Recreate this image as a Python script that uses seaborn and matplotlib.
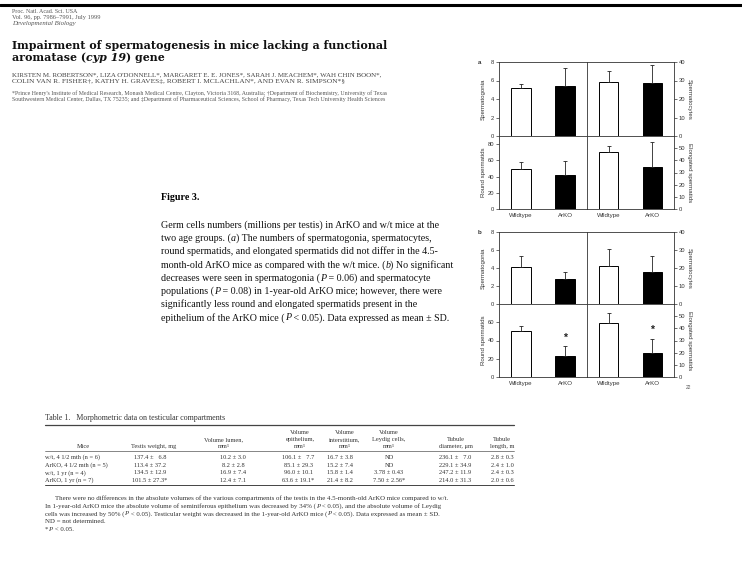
import pandas as pd
import matplotlib
matplotlib.use("Agg")
import matplotlib.pyplot as plt
import seaborn as sns

# --- data (millions per testis, mean and SD) ---
groups = ["Wildtype", "ArKO"]

a_spermatogonia = [5.15, 5.45]
a_spermatogonia_sd = [0.5, 1.9]
a_spermatocytes = [29.1, 28.7]
a_spermatocytes_sd = [5.8, 9.5]
a_round = [49.9, 42.5]
a_round_sd = [8.2, 16.4]
a_elongated = [46.9, 34.9]
a_elongated_sd = [4.9, 20.2]

b_spermatogonia = [4.1, 2.8]
b_spermatogonia_sd = [1.27, 0.79]
b_spermatocytes = [21.0, 17.6]
b_spermatocytes_sd = [9.4, 9.0]
b_round = [50.9, 23.3]
b_round_sd = [5.1, 10.2]
b_elongated = [44.6, 20.1]
b_elongated_sd = [7.6, 11.4]
b_signif = [False, True]

# --- table 1 ---
table_cols = [["Mice"], ["Testis weight, mg"], ["Volume lumen,", "mm³"],
              ["Volume", "epithelium,", "mm³"], ["Volume", "interstitium,", "mm³"],
              ["Volume", "Leydig cells,", "mm³"], ["Tubule", "diameter, μm"],
              ["Tubule", "length, m"]]
table_rows = [
    ["w/t, 4 1/2 mth (n = 6)", "137.4 ±   6.8", "10.2 ± 3.0", "106.1 ±   7.7", "16.7 ± 3.8", "ND", "236.1 ±   7.0", "2.8 ± 0.3"],
    ["ArKO, 4 1/2 mth (n = 5)", "113.4 ± 37.2", "8.2 ± 2.8", "85.1 ± 29.3", "15.2 ± 7.4", "ND", "229.1 ± 34.9", "2.4 ± 1.0"],
    ["w/t, 1 yr (n = 4)", "134.5 ± 12.9", "16.9 ± 7.4", "96.0 ± 10.1", "15.8 ± 1.4", "3.78 ± 0.43", "247.2 ± 11.9", "2.4 ± 0.3"],
    ["ArKO, 1 yr (n = 7)", "101.5 ± 27.3*", "12.4 ± 7.1", "63.6 ± 19.1*", "21.4 ± 8.2", "7.50 ± 2.56*", "214.0 ± 31.3", "2.0 ± 0.6"],
]

caption = [
    "Germ cells numbers (millions per testis) in ArKO and w/t mice at the",
    "two age groups. (|a|) The numbers of spermatogonia, spermatocytes,",
    "round spermatids, and elongated spermatids did not differ in the 4.5-",
    "month-old ArKO mice as compared with the w/t mice. (|b|) No significant",
    "decreases were seen in spermatogonia (|P| = 0.06) and spermatocyte",
    "populations (|P| = 0.08) in 1-year-old ArKO mice; however, there were",
    "significantly less round and elongated spermatids present in the",
    "epithelium of the ArKO mice (|P| < 0.05). Data expressed as mean ± SD.",
]

footnote = [
    "There were no differences in the absolute volumes of the various compartments of the testis in the 4.5-month-old ArKO mice compared to w/t.",
    "In 1-year-old ArKO mice the absolute volume of seminiferous epithelium was decreased by 34% (|P| < 0.05), and the absolute volume of Leydig",
    "cells was increased by 50% (|P| < 0.05). Testicular weight was decreased in the 1-year-old ArKO mice (|P| < 0.05). Data expressed as mean ± SD.",
    "ND = not determined.",
    "*|P| < 0.05.",
]

sns.set_style("ticks")
plt.rcParams["font.family"] = ["Liberation Sans", "DejaVu Sans"]

W, H = 742, 568
fig = plt.figure(figsize=(W / 100, H / 100), dpi=100)
renderer = fig.canvas.get_renderer()


def px_axes(x0, y0, x1, y1):
    return fig.add_axes([x0 / W, 1 - y1 / H, (x1 - x0) / W, (y1 - y0) / H])


def put(x, y, s, size, **kw):
    kw.setdefault("family", ["Liberation Serif", "DejaVu Serif"])
    kw.setdefault("va", "baseline")
    kw.setdefault("color", "black")
    return fig.text(x / W, 1 - y / H, s, fontsize=size, **kw)


def fit(x, y, s, width, **kw):
    # scale font so the line spans the given pixel width
    t = put(x, y, s, 10, **kw)
    w = t.get_window_extent(renderer=renderer).width
    t.set_fontsize(10 * width / w)
    return t


def runs(x, y, s, size, color="black", family=None):
    # text with |italic| segments
    fam = family or ["Liberation Serif", "DejaVu Serif"]
    for i, part in enumerate(s.split("|")):
        if not part:
            continue
        t = put(x, y, part, size, color=color, family=fam,
                style="italic" if i % 2 else "normal")
        x += t.get_window_extent(renderer=renderer).width


def bars(ax, means, sds, side, ylim, ticks, ylabel, show_x, signif=None):
    df = pd.DataFrame({"group": groups, "value": means})
    sns.barplot(data=df, x="group", y="value", hue="group",
                palette=["white", "black"], edgecolor="black", linewidth=0.7,
                width=0.44, legend=False, ax=ax)
    ax.errorbar(range(len(means)), means, yerr=[[0] * len(sds), sds],
                fmt="none", ecolor="#222", elinewidth=0.6, capsize=1.3,
                capthick=0.6, zorder=3)
    if signif:
        for i, s in enumerate(signif):
            if s:
                ax.text(i, means[i] + sds[i] + 0.12 * ylim, "*", ha="center",
                        va="center", fontsize=7.5, weight="bold", color="#222")
    ax.set_xlim(-0.5, 1.5)
    ax.set_ylim(0, ylim)
    ax.set_yticks(ticks)
    ax.set_xlabel("")
    ax.set_ylabel(ylabel, fontsize=4.4, color="#333")
    for sp in ax.spines.values():
        sp.set_linewidth(0.6)
        sp.set_color("#333")
        sp.set_visible(True)
    ax.tick_params(axis="y", labelsize=4.2, length=2.5, width=0.5,
                   colors="#333", pad=1)
    ax.tick_params(axis="x", length=0, labelsize=4.4, colors="#333", pad=3)
    if not show_x:
        ax.set_xticklabels([])
    if side == "left":
        ax.yaxis.set_label_coords(-0.15, 0.5)
    else:
        ax.yaxis.tick_right()
        ax.yaxis.set_label_position("right")
        ax.yaxis.set_label_coords(1.15, 0.5)
        ax.set_ylabel(ylabel, fontsize=4.4, color="#333", rotation=270,
                      va="bottom")
    ax.set_facecolor("white")


# figure 3, panels a (4.5 month) and b (1 year)
xl, xm, xr = 499, 587, 674
panel_sets = [
    ("a", 62, 136, 209,
     (a_spermatogonia, a_spermatogonia_sd), (a_spermatocytes, a_spermatocytes_sd),
     (a_round, a_round_sd, 90, [0, 20, 40, 60, 80]),
     (a_elongated, a_elongated_sd), None),
    ("b", 232, 304, 377,
     (b_spermatogonia, b_spermatogonia_sd), (b_spermatocytes, b_spermatocytes_sd),
     (b_round, b_round_sd, 80, [0, 20, 40, 60]),
     (b_elongated, b_elongated_sd), b_signif),
]

for label, y0, ym, y1, gonia, cytes, rnd, elong, sig in panel_sets:
    ax = px_axes(xl, y0, xm, ym)
    bars(ax, gonia[0], gonia[1], "left", 8, [0, 2, 4, 6, 8], "Spermatogonia", False)
    ax = px_axes(xm, y0, xr, ym)
    bars(ax, cytes[0], cytes[1], "right", 40, [0, 10, 20, 30, 40], "Spermatocytes", False)
    ax = px_axes(xl, ym, xm, y1)
    bars(ax, rnd[0], rnd[1], "left", rnd[2], rnd[3], "Round spermatids", True, sig)
    ax = px_axes(xm, ym, xr, y1)
    bars(ax, elong[0], elong[1], "right", 60, [0, 10, 20, 30, 40, 50],
         "Elongated spermatids", True, sig)
    put(478, y0 + 2, label, 4.5, weight="bold", family="Liberation Sans", color="#333")

put(686, 389, "22", 3.5, family="Liberation Sans", color="#555")

# page header
fig.add_artist(plt.Line2D([0, 1], [1 - 5 / H, 1 - 5 / H], color="black", lw=2.2))
fit(12, 13, "Proc. Natl. Acad. Sci. USA", 66, color="#555")
fit(12, 19, "Vol. 96, pp. 7986–7991, July 1999", 88, color="#555")
fit(12, 25, "Developmental Biology", 64, color="#555", style="italic")

fit(12, 49, "Impairment of spermatogenesis in mice lacking a functional", 376,
    weight="bold", family="DejaVu Serif", color="#111")
title_size = fig.texts[-1].get_fontsize()
title2 = [("aromatase (", "normal"), ("cyp 19", "italic"), (") gene", "normal")]
x = 12
for s, st in title2:
    t = put(x, 61, s, title_size, weight="bold", family="DejaVu Serif",
            style=st, color="#111")
    x += t.get_window_extent(renderer=renderer).width

fit(12, 76, "KIRSTEN M. ROBERTSON*, LIZA O'DONNELL*, MARGARET E. E. JONES*, SARAH J. MEACHEM*, WAH CHIN BOON*,",
    372, color="#444")
fit(12, 83, "COLIN VAN R. FISHER†, KATHY H. GRAVES‡, ROBERT I. MCLACHLAN*, AND EVAN R. SIMPSON*§",
    330, color="#444")
fit(12, 95, "*Prince Henry's Institute of Medical Research, Monash Medical Centre, Clayton, Victoria 3168, Australia; †Department of Biochemistry, University of Texas",
    372, color="#555")
fit(12, 101, "Southwestern Medical Center, Dallas, TX 75235; and ‡Department of Pharmaceutical Sciences, School of Pharmacy, Texas Tech University Health Sciences",
    372, color="#555")

# figure caption
put(161, 200, "Figure 3.", 7.2, weight="bold")
for i, line in enumerate(caption):
    runs(161, 228 + i * 13.2, line, 7.2, color="#111")

# table 1
fit(45, 420, "Table 1.   Morphometric data on testicular compartments", 178, color="#333")
fig.add_artist(plt.Line2D([45 / W, 514 / W], [1 - 425 / H] * 2, color="#444", lw=0.9))
fig.add_artist(plt.Line2D([45 / W, 514 / W], [1 - 451 / H] * 2, color="#555", lw=0.5))
fig.add_artist(plt.Line2D([45 / W, 514 / W], [1 - 485 / H] * 2, color="#444", lw=0.7))

head_x = [83, 154, 224, 300, 345, 389, 456, 502]
data_x = [45, 150, 233, 298, 340, 389, 455, 502]
for cx, lines in zip(head_x, table_cols):
    for j, s in enumerate(reversed(lines)):
        put(cx, 448 - j * 7, s, 4.6, ha="center", color="#333")
for r, row in enumerate(table_rows):
    y = 459 + r * 7.6
    for c, s in enumerate(row):
        put(data_x[c], y, s, 4.6, ha="left" if c == 0 else "center", color="#333")

for i, line in enumerate(footnote):
    indent = 55 if i == 0 else 45
    runs(indent, 500 + i * 7.7, line, 4.95, color="#333")

fig.savefig("out.png", dpi=100, facecolor="white")
